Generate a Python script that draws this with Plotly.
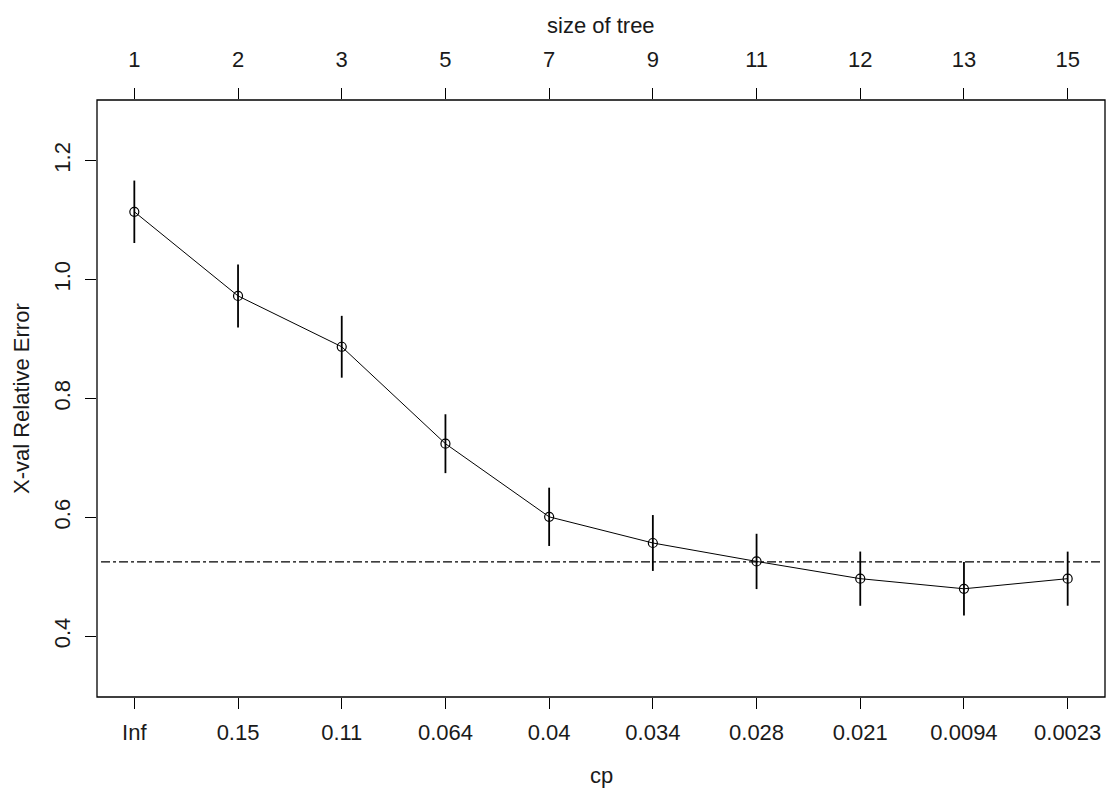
import plotly.graph_objects as go

# ---- data ----
tree_size = [1, 2, 3, 5, 7, 9, 11, 12, 13, 15]
cp_labels = ["Inf", "0.15", "0.11", "0.064", "0.04", "0.034", "0.028", "0.021", "0.0094", "0.0023"]
xerror = [1.114, 0.9725, 0.887, 0.724, 0.601, 0.557, 0.526, 0.497, 0.480, 0.497]
xstd = [0.0525, 0.053, 0.052, 0.0495, 0.049, 0.047, 0.0465, 0.0456, 0.0451, 0.0455]
y_ticks = [0.4, 0.6, 0.8, 1.0, 1.2]

idx = list(range(1, len(cp_labels) + 1))
imin = xerror.index(min(xerror))
threshold = xerror[imin] + xstd[imin]

FONT = "Liberation Sans, Arial, sans-serif"
FS = 22

fig = go.Figure()
fig.add_trace(go.Scatter(
    x=idx, y=xerror, mode="lines+markers",
    line=dict(color="black", width=1),
    marker=dict(symbol="circle-open", size=9, color="black", line=dict(width=1.2, color="black")),
    error_y=dict(type="data", array=xstd, visible=True, width=0, thickness=1.8, color="black"),
    showlegend=False, hoverinfo="skip",
))
# invisible trace to activate top axis
fig.add_trace(go.Scatter(x=idx, y=xerror, xaxis="x2", mode="markers",
                         marker=dict(opacity=0), showlegend=False, hoverinfo="skip"))

fig.add_shape(type="line", xref="paper", yref="y", x0=0.004, x1=0.996,
              y0=threshold, y1=threshold,
              line=dict(color="black", width=1.2, dash="dashdot"))
fig.add_shape(type="rect", xref="paper", yref="paper", x0=0, x1=1, y0=0, y1=1,
              line=dict(color="black", width=1.3))

xr = [0.64, 10.36]
common = dict(ticks="outside", ticklen=11, tickwidth=1.3, tickcolor="black",
              showgrid=False, zeroline=False, showline=False, automargin=False)
fig.update_layout(
    width=1106, height=789,
    margin=dict(l=97, r=1, t=100, b=92, autoexpand=False),
    paper_bgcolor="white", plot_bgcolor="white",
    font=dict(family=FONT, size=FS, color="#1a1a1a"),
    xaxis=dict(range=xr, tickmode="array", tickvals=idx, ticktext=cp_labels,
               ticklabelstandoff=5, **common),
    xaxis2=dict(range=xr, overlaying="x", side="top", tickmode="array",
                tickvals=idx, ticktext=[str(s) for s in tree_size],
                ticklabelstandoff=12, **common),
    yaxis=dict(range=[0.298, 1.302], tickmode="array", tickvals=y_ticks,
               ticktext=[f"{v:.1f}" for v in y_ticks], tickangle=-90,
               ticklabelstandoff=6, **common),
    annotations=[
        dict(text="size of tree", xref="paper", yref="paper", x=0.5, y=1,
             xanchor="center", yanchor="middle",
             yshift=75, showarrow=False, font=dict(size=FS)),
        dict(text="cp", xref="paper", yref="paper", x=0.5, y=0,
             xanchor="center", yanchor="middle",
             yshift=-78, showarrow=False, font=dict(size=FS)),
        dict(text="X-val Relative Error", xref="paper", yref="paper", x=0, y=0.5,
             xanchor="center", yanchor="middle",
             xshift=-75.5, textangle=-90, showarrow=False, font=dict(size=FS)),
    ],
)

fig.write_html("out.html", config={"displayModeBar": False},
               post_script="document.body.style.margin='0px';document.body.style.overflow='hidden';")
